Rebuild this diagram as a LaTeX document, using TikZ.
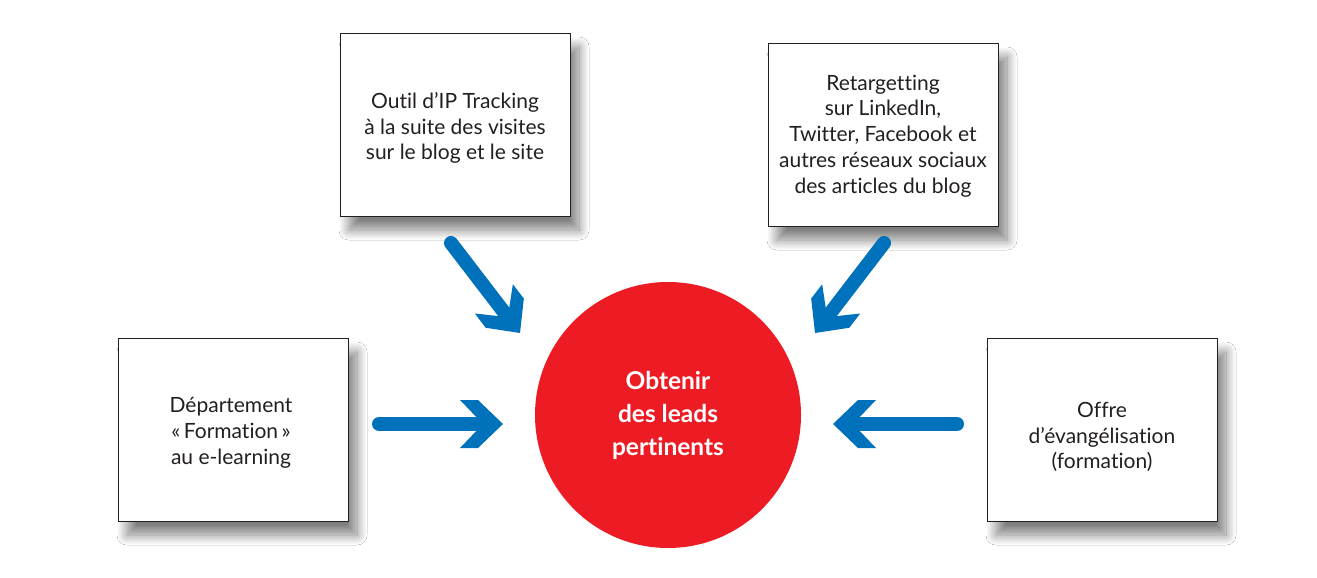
\documentclass[tikz,border=0pt]{standalone}
\usepackage{fontspec}
\setmainfont[Ligatures=NoCommon]{Lato}
\usetikzlibrary{calc,shadows.blur}
\definecolor{bluA}{RGB}{0,114,188}
\definecolor{redA}{RGB}{237,28,36}
\definecolor{txtA}{RGB}{35,31,32}
\newcommand\chevronhead[2]{\fill[bluA, shift={(#1)}, rotate=#2] (0,0) -- (-25,24) -- (-43,24) -- (-20,0) -- (-43,-24) -- (-25,-24) -- cycle;}
\begin{document}
\begin{tikzpicture}[x=1pt,y=-1pt,
  box/.style={draw=txtA, line width=0.9pt, fill=white, minimum width=230pt, minimum height=183pt,
    align=center, font=\fontsize{21}{25.8}\selectfont, text=txtA, inner sep=0pt,
    blur shadow={shadow xshift=9pt, shadow yshift=-14pt, shadow blur radius=10pt, shadow blur steps=24, shadow opacity=50}},
  boxtext/.style={align=center, font=\fontsize{21}{25.8}\selectfont, text=txtA, inner sep=0pt},
  goalstyle/.style={circle, fill=redA, minimum size=266pt, inner sep=0pt, text=white,
    font=\bfseries\fontsize{24.5}{33}\selectfont, align=center},
  shaft/.style={draw=bluA, line width=14pt, line cap=round}]
\useasboundingbox (0,0) rectangle (1317,578);
\fill[white] (0,0) rectangle (1317,578);

\node[box] (ip) at (455,124.5) {};
\node[boxtext] at (455,128) {Outil d’IP Tracking\\à la suite des visites\\sur le blog et le site};
\node[box] (rt) at (883,134.5) {};
\node[boxtext] at (883,136) {Retargetting\\sur LinkedIn,\\Twitter, Facebook et\\autres réseaux sociaux\\des articles du blog};
\node[box] (dep) at (233,429.5) {};
\node[boxtext] at (231,433) {Département\\«\,Formation\,»\\au e-learning};
\node[box] (off) at (1102,429.5) {};
\node[boxtext] at (1102,437) {Offre\\d’évangélisation\\(formation)};
\node[goalstyle] (goal) at (668,415) {Obtenir\\des leads\\pertinents};

\coordinate (a1s) at (451,243); \coordinate (a1t) at (520,333);
\coordinate (a2s) at (884,243); \coordinate (a2t) at (815,333);
\coordinate (a3s) at (379,424); \coordinate (a3t) at (503,424);
\coordinate (a4s) at (957,424); \coordinate (a4t) at (833,424);

\draw[shaft] (a1s) -- ($(a1t)!22pt!(a1s)$);
\chevronhead{a1t}{-52.5}
\draw[shaft] (a2s) -- ($(a2t)!22pt!(a2s)$);
\chevronhead{a2t}{-127.5}
\draw[shaft] (a3s) -- ($(a3t)!22pt!(a3s)$);
\chevronhead{a3t}{0}
\draw[shaft] (a4s) -- ($(a4t)!22pt!(a4s)$);
\chevronhead{a4t}{180}
\end{tikzpicture}
\end{document}
